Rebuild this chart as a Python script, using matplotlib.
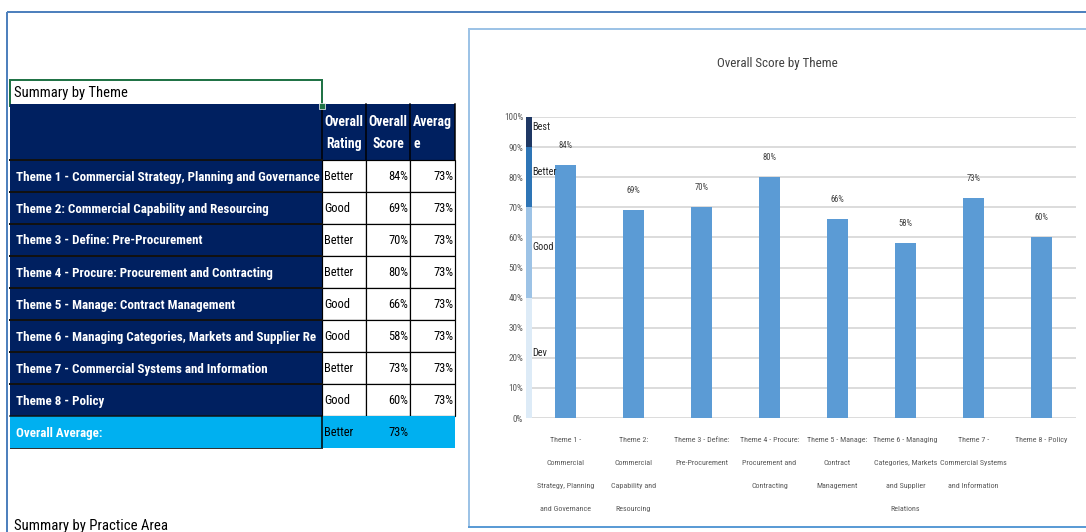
import matplotlib
matplotlib.use("Agg")
import matplotlib.pyplot as plt
from matplotlib import font_manager as fm
from matplotlib.patches import Rectangle
from matplotlib.ticker import FuncFormatter

# ---------------- data ----------------
chart_title = "Overall Score by Theme"
themes = [
    "Theme 1 -\nCommercial\nStrategy, Planning\nand Governance",
    "Theme 2:\nCommercial\nCapability and\nResourcing",
    "Theme 3 - Define:\nPre-Procurement",
    "Theme 4 - Procure:\nProcurement and\nContracting",
    "Theme 5 - Manage:\nContract\nManagement",
    "Theme 6 - Managing\nCategories, Markets\nand Supplier\nRelations",
    "Theme 7 -\nCommercial Systems\nand Information",
    "Theme 8 - Policy",
]
scores = [84, 69, 70, 80, 66, 58, 73, 60]

band_labels = ["Dev", "Good", "Better", "Best"]
band_edges = [0, 40, 70, 90, 100]
band_colors = ["#ddebf7", "#9dc3e6", "#2e75b6", "#1f3864"]

table_title = "Summary by Theme"
table_headers = ["Overall\nRating", "Overall\nScore", "Averag\ne"]
table_labels = [
    "Theme 1 - Commercial Strategy, Planning and Governance",
    "Theme 2: Commercial Capability and Resourcing",
    "Theme 3 - Define: Pre-Procurement",
    "Theme 4 - Procure: Procurement and Contracting",
    "Theme 5 - Manage: Contract Management",
    "Theme 6 - Managing Categories, Markets and Supplier Re",
    "Theme 7 - Commercial Systems and Information",
    "Theme 8 - Policy",
]
ratings = ["Better", "Good", "Better", "Better", "Good", "Good", "Better", "Good"]
averages = [73, 73, 73, 73, 73, 73, 73, 73]
overall_label = "Overall Average:"
overall_rating = "Better"
overall_score = 73
next_section = "Summary by Practice Area"

# ---------------- fonts ----------------
names = {f.name for f in fm.fontManager.ttflist}
def pick(cands):
    for c in cands:
        if c in names:
            return c
    return "DejaVu Sans"
NARROW = pick(["Liberation Sans Narrow", "Roboto Condensed", "Open Sans Condensed",
               "Noto Sans Condensed", "Liberation Sans", "DejaVu Sans"])

W, H = 1086, 532
fig = plt.figure(figsize=(W / 100, H / 100), dpi=100)
fig.patch.set_facecolor("white")
fig.canvas.draw()
R = fig.canvas.get_renderer()

def fit(s, px, **kw):
    t = fig.text(0, 0, s, fontsize=10, family=NARROW, **kw)
    w = t.get_window_extent(R).width
    t.remove()
    return 10.0 * px / w

# ---------------- background canvas (pixel coords) ----------------
bg = fig.add_axes([0, 0, 1, 1], zorder=0)
bg.set_xlim(0, W)
bg.set_ylim(H, 0)
bg.axis("off")

px = 0.72  # points per pixel
bg.plot([7, W], [12, 12], color="#4f81bd", lw=2 * px, solid_capstyle="butt")
bg.plot([7, 7], [12, H], color="#4f81bd", lw=2 * px, solid_capstyle="butt")

# chart frame
bg.add_patch(Rectangle((469, 29), 640, 498, fc="white", ec="#9dc3e6", lw=2 * px))
bg.plot([469, W], [527, 527], color="#5b9bd5", lw=2 * px)

NAVY = "#002060"
CYAN = "#00b0f0"
X0, X1, X2, X3, X4 = 10, 322, 366, 410, 455
ROW0, ROW_H = 160, 32

# title cell
fs_title = fit(table_title, 113)
bg.add_patch(Rectangle((X0, 80), X1 - X0, 26, fill=False, ec="#217346", lw=2 * px))
bg.add_patch(Rectangle((X1 - 3, 103), 6, 6, fc="#217346", ec="white", lw=0.5, zorder=5))
bg.text(14, 93, table_title, fontsize=fs_title, family=NARROW, va="center", ha="left", color="black")

# header
bg.add_patch(Rectangle((X0, 104), X4 - X0, ROW0 - 104, fc=NAVY, ec="none"))
fs_head = fit("Overall", 39, fontweight="bold")
for j, (xa, xb) in enumerate([(X1, X2), (X2, X3), (X3, X4)]):
    if j < 2:
        bg.text((xa + xb) / 2, 133, table_headers[j], ha="center", va="center", color="white",
                fontsize=fs_head, family=NARROW, fontweight="bold", linespacing=1.8)
    else:
        bg.text(xa + 3, 133, table_headers[j], ha="left", va="center", color="white",
                fontsize=fs_head, family=NARROW, fontweight="bold", linespacing=1.8,
                multialignment="left")
    bg.plot([xa, xa], [104, ROW0], color="black", lw=1.5 * px)
bg.plot([X4, X4], [104, ROW0], color="black", lw=1.5 * px)

fs_row = fit(table_labels[0], 304, fontweight="bold")
fs_val = fit("Better", 29)
for i, lab in enumerate(table_labels):
    y = ROW0 + i * ROW_H
    bg.add_patch(Rectangle((X0, y), X1 - X0, ROW_H, fc=NAVY, ec="none"))
    bg.plot([X0, X1], [y, y], color="#111111", lw=2 * px)
    for xa, xb in [(X1, X2), (X2, X3), (X3, X4)]:
        bg.add_patch(Rectangle((xa, y), xb - xa, ROW_H, fc="white", ec="black", lw=1.2 * px))
    yc = y + ROW_H / 2 + 1
    bg.text(16, yc, lab, ha="left", va="center", color="white", fontsize=fs_row,
            family=NARROW, fontweight="bold")
    bg.text(X1 + 2, yc, ratings[i], ha="left", va="center", color="black", fontsize=fs_val, family=NARROW)
    bg.text(X3 - 2, yc, f"{scores[i]}%", ha="right", va="center", color="black", fontsize=fs_val, family=NARROW)
    bg.text(X4 - 2, yc, f"{averages[i]}%", ha="right", va="center", color="black", fontsize=fs_val, family=NARROW)

yo = ROW0 + len(table_labels) * ROW_H
bg.add_patch(Rectangle((X0, yo), X4 - X0, ROW_H, fc=CYAN, ec="none"))
bg.plot([X0, X1], [yo, yo], color="#111111", lw=1.5 * px)
bg.plot([X1, X1], [yo, yo + ROW_H], color="black", lw=1.5 * px)
bg.plot([X0, X1], [yo + ROW_H, yo + ROW_H], color="#333333", lw=1 * px)
yc = yo + ROW_H / 2 + 1
bg.text(16, yc, overall_label, ha="left", va="center", color="white", fontsize=fs_row,
        family=NARROW, fontweight="bold")
bg.text(X1 + 2, yc, overall_rating, ha="left", va="center", color="black", fontsize=fs_val, family=NARROW)
bg.text(X3 - 2, yc, f"{overall_score}%", ha="right", va="center", color="black", fontsize=fs_val, family=NARROW)

fs_next = fit(next_section, 152)
bg.text(14, 526, next_section, ha="left", va="center", color="black", fontsize=fs_next, family=NARROW)

# ---------------- chart ----------------
fig.text(777.5 / W, 1 - 64 / H, chart_title, ha="center", va="center",
         fontsize=fit(chart_title, 120), family=NARROW, color="#404040")

ax = fig.add_axes([531.5 / W, (H - 418) / H, 544 / W, 301 / H], zorder=2)
ax.patch.set_alpha(0)
x = list(range(len(scores)))
bars = ax.bar(x, scores, width=0.31, color="#5b9bd5", zorder=3)
ax.set_xlim(-0.5, len(scores) - 0.5)
ax.set_ylim(0, 100)
ax.set_yticks(range(0, 101, 10))
ax.yaxis.set_major_formatter(FuncFormatter(lambda v, p: f"{int(v)}%"))
for s in ax.spines.values():
    s.set_visible(False)
ax.set_axisbelow(True)
ax.yaxis.grid(True, color="#d9d9d9", lw=1.3)
ax.tick_params(axis="both", length=0)
fs_ytick = fit("100%", 19)
ax.tick_params(axis="y", labelsize=fs_ytick, labelcolor="#595959", pad=6)
for t in ax.get_yticklabels():
    t.set_family(NARROW)
fs_xtick = fit("Strategy, Planning", 57)
ax.set_xticks(x)
ax.set_xticklabels(themes, fontsize=fs_xtick, family=NARROW, color="#595959",
                   linespacing=4.35, va="top")
ax.tick_params(axis="x", pad=14)

fs_lab = fit("84%", 14)
ax.bar_label(bars, labels=[f"{v}%" for v in scores], padding=11, fontsize=fs_lab,
             family=NARROW, color="#404040")

# rating bands on the value axis
ytr = ax.get_yaxis_transform()
fs_band = fit("Better", 24)
for k, lab in enumerate(band_labels):
    lo, hi = band_edges[k], band_edges[k + 1]
    ax.add_patch(Rectangle((-0.0105, lo), 0.011, hi - lo, transform=ytr,
                           fc=band_colors[k], ec="none", clip_on=False, zorder=4))
    ax.text(0.001, (lo + hi) / 2 + 1.7, lab, transform=ytr, ha="left", va="center",
            fontsize=fs_band, family=NARROW, color="#262626", zorder=5)

fig.savefig("out.png", dpi=100)
